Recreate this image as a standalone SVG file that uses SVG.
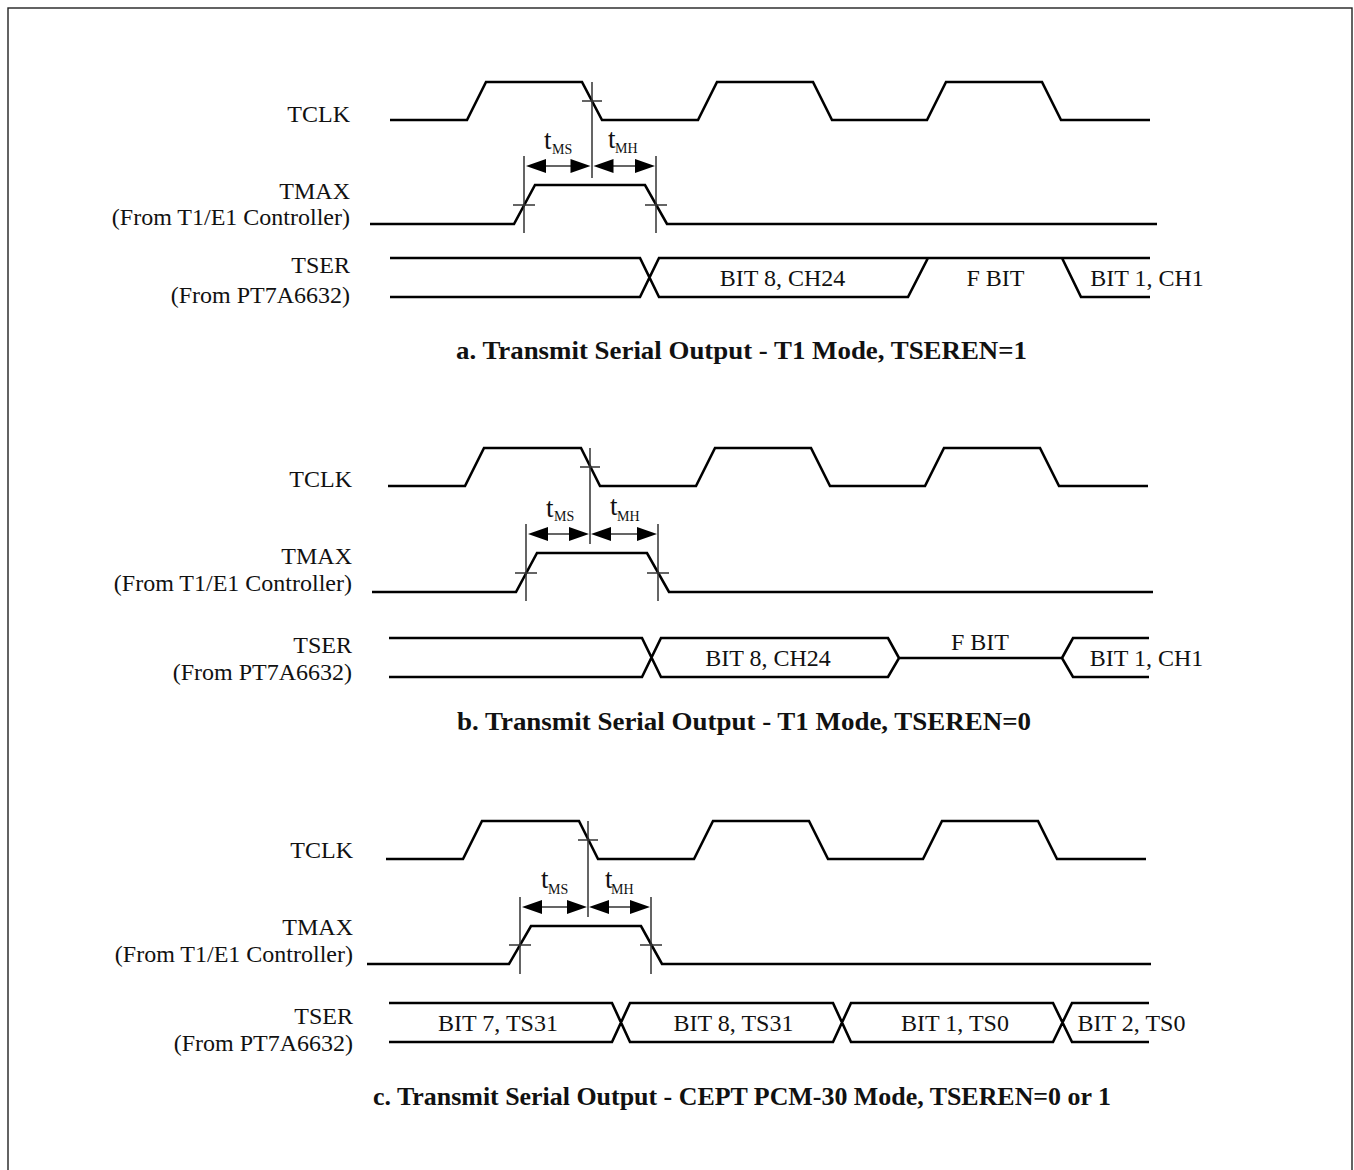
<svg xmlns="http://www.w3.org/2000/svg" width="1354" height="1170" viewBox="0 0 1354 1170">
<style>
text{font-family:"Liberation Serif","Times New Roman",serif;font-size:24px;fill:#111}
.m{text-anchor:middle}
.e{text-anchor:end}
.h{font-weight:bold;font-size:25.5px}
.s{font-size:14px}
.t{font-size:27px}
.w{fill:none;stroke:#000;stroke-width:2.6}
.g{fill:none;stroke:#333;stroke-width:1.5}
.a{fill:#000}
</style>
<rect x="8" y="8" width="1344" height="1180" fill="none" stroke="#222" stroke-width="1.4"/>
<g id="connectors">
<g id="panel-a">
<path class="w" d="M390 120H467L486 82H582L602 120H698L717 82H813L832 120H927L946 82H1042L1061 120H1150"/>
<path class="w" d="M370 224H514L535 185H645L667 224H1157"/>
<path class="w" d="M390 258H640L659 297H908L928 258H1150M390 297H640L659 258H928M1062 258L1081 297H1150"/>
<path class="g" d="M592 82V178M524 156V233M656 156V233M582 101H602M513 205H535M645 205H667M540 166H580M607 166H641"/>
<path class="a" d="M526 166L546 159V173ZM590.500 166L570.500 159V173ZM593.500 166L613.500 159V173ZM655 166L635 159V173Z"/>
</g>
<g id="panel-b">
<path class="w" d="M388 486H465L484 448H581L600 486H696L715 448H811L830 486H925L944 448H1040L1059 486H1148"/>
<path class="w" d="M372 592H516L537 553H647L669 592H1153"/>
<path class="w" d="M389 638H642L661 677H888L899 658H1062L1073 677H1149M389 677H642L661 638H888L899 658M1062 658L1073 638H1149"/>
<path class="g" d="M590 448V544M526 524V601M658 524V601M580 467H600M515 573H537M647 573H669M542 534H576M605 534H643"/>
<path class="a" d="M528 534L548 527V541ZM589 534L569 527V541ZM591 534L611 527V541ZM657 534L637 527V541Z"/>
</g>
<g id="panel-c">
<path class="w" d="M386 859H463L482 821H579L598 859H694L713 821H809L828 859H923L942 821H1038L1057 859H1146"/>
<path class="w" d="M367 964H509L531 926H641L662 964H1151"/>
<path class="w" d="M389 1003H612L630 1042H833L851 1003H1053L1072 1042H1149M389 1042H612L630 1003H833L851 1042H1053L1072 1003H1149"/>
<path class="g" d="M588 821V917M520 897V974M651 897V974M578 840H598M509 945H531M640 945H662M536 907H574M603 907H635"/>
<path class="a" d="M522 907L542 900V914ZM587 907L567 900V914ZM589 907L609 900V914ZM650 907L630 900V914Z"/>
</g>
</g>
<g id="labels-a">
<text class="e" x="350" y="122">TCLK</text>
<text class="e" x="350" y="199">TMAX</text>
<text class="e" x="350" y="225">(From T1/E1 Controller)</text>
<text class="e" x="350" y="273">TSER</text>
<text class="e" x="350" y="303">(From PT7A6632)</text>
<text x="544" y="149" class="t">t</text><text x="552" y="154" class="s">MS</text>
<text x="608" y="148" class="t">t</text><text x="615" y="153" class="s">MH</text>
<text class="m" x="782.500" y="286">BIT 8, CH24</text>
<text class="m" x="995.500" y="286">F BIT</text>
<text class="m" x="1147" y="286">BIT 1, CH1</text>
<text class="h" x="456" y="359" textLength="571" lengthAdjust="spacingAndGlyphs">a. Transmit Serial Output - T1 Mode, TSEREN=1</text>
</g>
<g id="labels-b">
<text class="e" x="352" y="487">TCLK</text>
<text class="e" x="352" y="564">TMAX</text>
<text class="e" x="352" y="591">(From T1/E1 Controller)</text>
<text class="e" x="352" y="653">TSER</text>
<text class="e" x="352" y="680">(From PT7A6632)</text>
<text x="546" y="517" class="t">t</text><text x="554" y="521" class="s">MS</text>
<text x="610" y="515" class="t">t</text><text x="617" y="521" class="s">MH</text>
<text class="m" x="768" y="666">BIT 8, CH24</text>
<text class="m" x="980" y="650">F BIT</text>
<text class="m" x="1146.500" y="666">BIT 1, CH1</text>
<text class="h" x="457" y="730" textLength="574" lengthAdjust="spacingAndGlyphs">b. Transmit Serial Output - T1 Mode, TSEREN=0</text>
</g>
<g id="labels-c">
<text class="e" x="353" y="858">TCLK</text>
<text class="e" x="353" y="935">TMAX</text>
<text class="e" x="353" y="962">(From T1/E1 Controller)</text>
<text class="e" x="353" y="1024">TSER</text>
<text class="e" x="353" y="1051">(From PT7A6632)</text>
<text x="541" y="888" class="t">t</text><text x="548" y="894" class="s">MS</text>
<text x="605" y="888" class="t">t</text><text x="611" y="894" class="s">MH</text>
<text class="m" x="498" y="1031">BIT 7, TS31</text>
<text class="m" x="733.500" y="1031">BIT 8, TS31</text>
<text class="m" x="955" y="1031">BIT 1, TS0</text>
<text class="m" x="1131.500" y="1031">BIT 2, TS0</text>
<text class="h" x="373" y="1105" textLength="738" lengthAdjust="spacingAndGlyphs">c. Transmit Serial Output - CEPT PCM-30 Mode, TSEREN=0 or 1</text>
</g>
</svg>
